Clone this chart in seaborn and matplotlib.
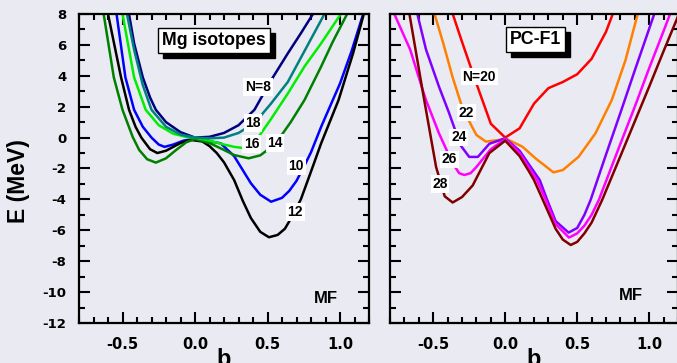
import numpy as np
import pandas as pd
import matplotlib
matplotlib.use("Agg")
import matplotlib.pyplot as plt
from matplotlib.ticker import MultipleLocator
import seaborn as sns

# ---------------- data: Mg isotopes (left panel) ----------------
mg_N8_b = [-0.47, -0.42, -0.36, -0.31, -0.27, -0.2, -0.1, 0.0, 0.1, 0.2, 0.3, 0.41, 0.524, 0.64, 0.73, 0.83]
mg_N8_E = [8.8, 6.1, 3.9, 2.6, 1.8, 1.0, 0.35, 0.0, 0.05, 0.3, 0.8, 1.8, 3.7, 5.45, 6.75, 8.25]

mg_N10_b = [-0.55, -0.48, -0.42, -0.36, -0.30, -0.25, -0.21, -0.15, -0.08, -0.02, 0.05, 0.177, 0.27, 0.385, 0.45, 0.525, 0.6, 0.65, 0.7, 0.75, 0.80, 0.87, 1.0, 1.08, 1.17]
mg_N10_E = [8.6, 3.9, 1.8, 0.7, 0.0, -0.45, -0.6, -0.45, -0.2, -0.1, -0.15, -0.37, -1.2, -2.95, -3.7, -4.15, -3.9, -3.45, -2.8, -1.9, -0.95, 0.7, 3.5, 5.6, 8.3]

mg_N12_b = [-0.61, -0.60, -0.51, -0.455, -0.41, -0.37, -0.31, -0.26, -0.2, -0.1, -0.03, 0.05, 0.1, 0.15, 0.2, 0.27, 0.33, 0.385, 0.45, 0.51, 0.57, 0.62, 0.67, 0.73, 0.8, 0.87, 0.99, 1.09, 1.17]
mg_N12_E = [8.5, 8.0, 3.9, 1.8, 0.7, 0.0, -0.75, -1.0, -0.85, -0.35, -0.15, -0.25, -0.55, -1.0, -1.6, -2.75, -4.1, -5.2, -6.1, -6.45, -6.3, -5.9, -5.1, -4.0, -2.2, -0.37, 2.43, 5.45, 8.2]

mg_N14_b = [-0.64, -0.63, -0.56, -0.5, -0.43, -0.385, -0.33, -0.27, -0.2, -0.13, -0.06, 0.0, 0.1, 0.2, 0.27, 0.37, 0.45, 0.5, 0.55, 0.6, 0.66, 0.755, 0.87, 0.95, 1.06]
mg_N14_E = [8.6, 8.0, 3.9, 1.8, 0.05, -0.8, -1.4, -1.62, -1.34, -0.8, -0.3, -0.1, -0.35, -0.8, -1.13, -1.34, -1.15, -0.8, -0.35, 0.2, 1.0, 2.43, 4.6, 6.2, 8.2]

mg_N16_b = [-0.51, -0.50, -0.42, -0.34, -0.25, -0.15, -0.05, 0.0, 0.1, 0.2, 0.27, 0.34, 0.4, 0.45, 0.524, 0.64, 0.755, 0.87, 1.02]
mg_N16_E = [8.5, 8.0, 3.9, 1.8, 0.8, 0.25, 0.02, 0.0, -0.2, -0.45, -0.6, -0.68, -0.3, 0.2, 1.2, 2.85, 4.6, 6.1, 8.2]

mg_N18_b = [-0.48, -0.42, -0.36, -0.30, -0.2, -0.1, 0.0, 0.1, 0.2, 0.3, 0.41, 0.524, 0.64, 0.755, 0.91]
mg_N18_E = [8.5, 5.7, 3.4, 1.8, 0.7, 0.2, 0.0, -0.05, 0.0, 0.3, 0.93, 2.2, 3.6, 5.6, 8.3]

# ---------------- data: PC-F1 (right panel) ----------------
pc_N20_b = [-0.4, -0.3, -0.2, -0.1, 0.0, 0.1, 0.2, 0.3, 0.4, 0.5, 0.6, 0.7, 0.8]
pc_N20_E = [9.0, 6.2, 3.5, 0.9, 0.0, 0.6, 2.2, 3.2, 3.6, 4.1, 5.1, 6.85, 9.3]

pc_N22_b = [-0.5, -0.43, -0.365, -0.3, -0.237, -0.2, -0.134, -0.04, 0.0, 0.12, 0.21, 0.335, 0.4, 0.51, 0.627, 0.74, 0.835, 0.92, 0.95]
pc_N22_E = [8.3, 6.1, 3.9, 2.0, 0.82, 0.17, -0.26, -0.15, -0.05, -0.59, -1.34, -2.25, -2.1, -1.24, 0.28, 2.43, 5.0, 8.0, 9.0]

pc_N24_b = [-0.62, -0.61, -0.55, -0.46, -0.39, -0.31, -0.25, -0.19, -0.11, 0.0, 0.1, 0.166, 0.24, 0.29, 0.35, 0.44, 0.5, 0.55, 0.593, 0.7, 0.8, 0.9, 1.0, 1.035, 1.06]
pc_N24_E = [8.5, 8.0, 5.7, 3.3, 1.6, -0.5, -1.25, -1.25, -0.4, -0.05, -0.85, -1.75, -2.75, -4.0, -5.4, -6.15, -5.85, -5.0, -4.04, -1.1, 1.6, 4.35, 7.05, 8.0, 8.7]

pc_N26_b = [-0.78, -0.77, -0.66, -0.57, -0.55, -0.46, -0.365, -0.32, -0.284, -0.24, -0.2, -0.1, 0.0, 0.1, 0.166, 0.22, 0.28, 0.35, 0.443, 0.5, 0.55, 0.6, 0.65, 0.8, 0.9, 1.0, 1.1, 1.145, 1.2]
pc_N26_E = [8.3, 8.0, 5.7, 3.0, 2.43, 0.28, -1.66, -2.3, -2.42, -2.3, -1.9, -0.75, -0.1, -1.0, -1.95, -2.75, -4.0, -5.6, -6.47, -6.2, -5.7, -5.0, -4.04, -0.4, 2.0, 4.5, 6.9, 8.0, 9.3]

pc_N28_b = [-0.67, -0.665, -0.575, -0.48, -0.42, -0.365, -0.3, -0.226, -0.11, 0.0, 0.1, 0.166, 0.2, 0.26, 0.35, 0.4, 0.455, 0.5, 0.55, 0.6, 0.673, 0.8, 0.9, 1.0, 1.1, 1.2, 1.25]
pc_N28_E = [8.3, 8.0, 3.1, -1.9, -3.8, -4.2, -3.85, -3.1, -1.0, -0.2, -1.2, -2.2, -2.75, -4.0, -5.9, -6.6, -6.95, -6.75, -6.2, -5.5, -4.04, -1.2, 1.05, 3.3, 5.6, 7.85, 9.0]

mg_labels = ["N=8", "10", "12", "14", "16", "18"]
mg_colors = ["#000080", "#0000FF", "#000000", "#008000", "#00EE00", "#008080"]
mg_label_b = [0.434, 0.698, 0.691, 0.552, 0.392, 0.40]
mg_label_E = [3.28, -1.84, -4.82, -0.35, -0.41, 0.94]

pc_labels = ["N=20", "22", "24", "26", "28"]
pc_colors = ["#FF0000", "#FF8000", "#8000FF", "#FF00FF", "#800000"]
pc_label_b = [-0.18, -0.268, -0.323, -0.388, -0.452]
pc_label_E = [3.94, 1.61, 0.02, -1.40, -3.00]

x_ticks = [-0.5, 0.0, 0.5, 1.0]
y_ticks = [8, 6, 4, 2, 0, -2, -4, -6, -8, -10, -12]

# ---------------- build tables ----------------
def long_table(names, bs, Es):
    frames = []
    for n, b, e in zip(names, bs, Es):
        frames.append(pd.DataFrame({"b": b, "E": e, "N": n}))
    return pd.concat(frames, ignore_index=True)

mg_df = long_table(mg_labels,
                   [mg_N8_b, mg_N10_b, mg_N12_b, mg_N14_b, mg_N16_b, mg_N18_b],
                   [mg_N8_E, mg_N10_E, mg_N12_E, mg_N14_E, mg_N16_E, mg_N18_E])
pc_df = long_table(pc_labels,
                   [pc_N20_b, pc_N22_b, pc_N24_b, pc_N26_b, pc_N28_b],
                   [pc_N20_E, pc_N22_E, pc_N24_E, pc_N26_E, pc_N28_E])

# ---------------- style ----------------
BG = "#EAEAF2"
sns.set_theme(style="dark")
plt.rcParams.update({
    "axes.facecolor": BG,
    "figure.facecolor": BG,
    "savefig.facecolor": BG,
    "axes.edgecolor": "black",
    "axes.linewidth": 1.6,
    "axes.unicode_minus": False,
    "xtick.color": "black",
    "ytick.color": "black",
    "xtick.labelcolor": "black",
    "ytick.labelcolor": "black",
    "text.color": "black",
    "axes.labelcolor": "black",
})
plt.rcParams["font.family"] = ["DejaVu Sans"]
ANN = ["Liberation Sans", "DejaVu Sans"]

fig = plt.figure(figsize=(6.77, 3.63), dpi=100)
axL = fig.add_axes([79 / 677, 40 / 363, 290 / 677, 309 / 363])
axR = fig.add_axes([390 / 677, 40 / 363, 288 / 677, 309 / 363])

sns.lineplot(data=mg_df, x="b", y="E", hue="N", hue_order=mg_labels,
             palette=dict(zip(mg_labels, mg_colors)), estimator=None, sort=False,
             linewidth=1.8, legend=False, ax=axL)
sns.lineplot(data=pc_df, x="b", y="E", hue="N", hue_order=pc_labels,
             palette=dict(zip(pc_labels, pc_colors)), estimator=None, sort=False,
             linewidth=1.8, legend=False, ax=axR)

for ax in (axL, axR):
    ax.set_xlim(-0.8, 1.2)
    ax.set_ylim(-12, 8)
    ax.grid(False)
    ax.xaxis.set_major_locator(MultipleLocator(0.5))
    ax.xaxis.set_minor_locator(MultipleLocator(0.1))
    ax.yaxis.set_major_locator(MultipleLocator(2))
    ax.yaxis.set_minor_locator(MultipleLocator(1))
    ax.set_xticks(x_ticks)
    ax.set_xticklabels([f"{v:.1f}" for v in x_ticks], fontsize=10.5,
                       fontweight="bold", color="black")
    ax.tick_params(which="both", direction="in", top=True, right=True,
                   bottom=True, left=True, color="black", width=1.5)
    ax.tick_params(which="major", length=8, pad=7)
    ax.tick_params(which="minor", length=4.5)
    ax.tick_params(axis="x", which="major", pad=10)
    for s in ax.spines.values():
        s.set_color("black")
        s.set_linewidth(1.6)
    ax.set_xlabel("b", fontsize=17, fontweight="bold", family=ANN, labelpad=0,
                  color="black")
    ax.xaxis.set_label_coords(0.5, -0.08)
    ax.text(0.9 if ax is axL else 0.875, -10.4 if ax is axL else -10.2, "MF",
            fontsize=12, fontweight="bold", family=ANN, ha="center", va="center",
            color="black")

axL.set_yticks(y_ticks)
axL.set_yticklabels([str(v) for v in y_ticks], fontsize=9.5, fontweight="bold",
                    color="black")
axL.tick_params(axis="y", which="major", pad=9)
axL.set_ylabel("E (MeV)", fontsize=16.5, fontweight="bold", family=ANN, color="black")
axL.yaxis.set_label_coords(-0.17, 0.46)
axR.set_yticks(y_ticks)
axR.set_yticklabels([])
axR.set_ylabel("")

# curve labels
for ax, labs, bb, ee in ((axL, mg_labels, mg_label_b, mg_label_E),
                         (axR, pc_labels, pc_label_b, pc_label_E)):
    for t, x, y in zip(labs, bb, ee):
        ax.text(x, y, t, fontsize=10, fontweight="bold", family=ANN,
                ha="center", va="center", zorder=5, color="black",
                bbox=dict(boxstyle="square,pad=0.12", fc="white", ec="none"))

# title boxes with drop shadow
for ax, title, x, y in ((axL, "Mg isotopes", 0.132, 6.28), (axR, "PC-F1", 0.208, 6.37)):
    ax.annotate(title, xy=(x, y), xytext=(3.6, -3.6), textcoords="offset points",
                fontsize=12.8, fontweight="bold", family=ANN, ha="center", va="center",
                color="black", zorder=6,
                bbox=dict(boxstyle="square,pad=0.22", fc="black", ec="black"))
    ax.text(x, y, title, fontsize=12.8, fontweight="bold", family=ANN,
            ha="center", va="center", zorder=7, color="black",
            bbox=dict(boxstyle="square,pad=0.22", fc="white", ec="black", lw=1.0))

fig.savefig("out.png", dpi=100)
